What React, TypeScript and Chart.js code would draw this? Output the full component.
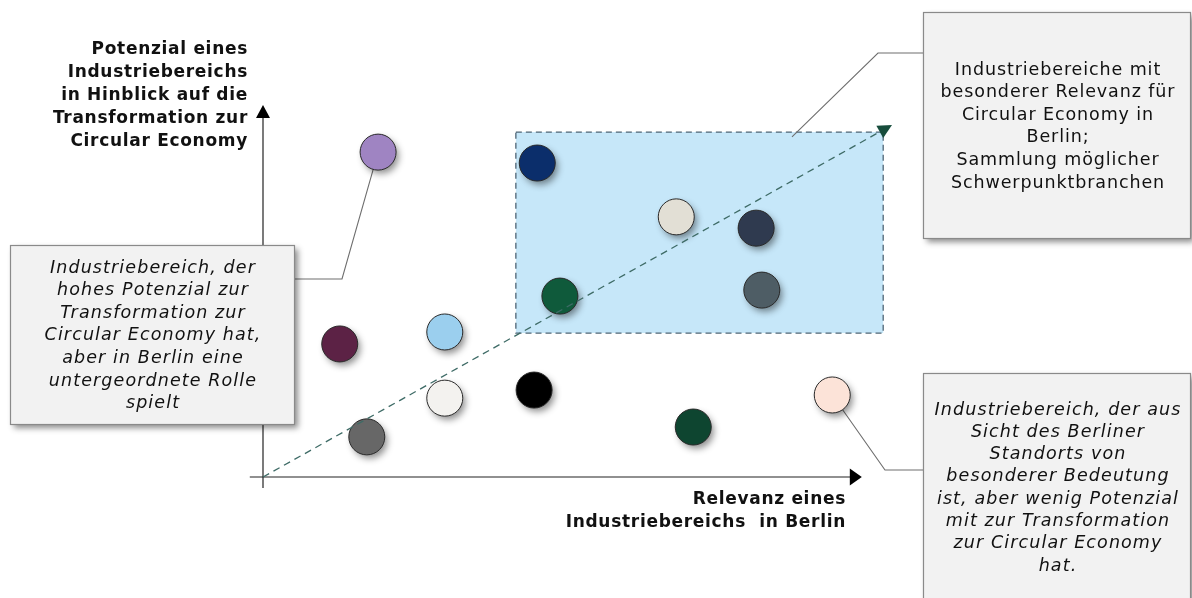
import React, { useEffect, useRef } from "react";
import { Chart, registerables } from "chart.js";

Chart.register(...registerables);

// Industry sectors: relevance in Berlin (x) vs. circular-economy potential (y)
const sectorX = [18.3, 43.6, 12.2, 28.9, 47.2, 28.9, 43.1, 16.5, 65.7, 78.4, 79.3, 68.4, 90.5];
const sectorY = [92.3, 89.2, 37.8, 41.2, 51.4, 22.4, 24.7, 11.4, 73.9, 70.7, 53.1, 14.2, 23.3];
const sectorColors = [
  "#9F84C2", "#0B2E6B", "#5C2245", "#9BCFEE", "#0F5A3B", "#F3F2EF", "#000000",
  "#676767", "#E2DFD5", "#2F3A4F", "#4E5D65", "#0E4530", "#FCE3D8",
];

// Focus area (highlighted rectangle) in data units
const focusXRange = [40.2, 98.6];
const focusYRange = [40.9, 98.0];

// Axis extents in data units
const xAxisExtent = [-2.1, 95.2];
const yAxisExtent = [-3.1, 105.7];

// Target of the top-right leader line (data units)
const focusLeaderTarget = [84.1, 96.6];

const yAxisTitle = ["Potenzial eines", "Industriebereichs", "in Hinblick auf die", "Transformation zur", "Circular Economy"];
const xAxisTitle = ["Relevanz eines", "Industriebereichs  in Berlin"];
const calloutLeft = [
  "Industriebereich, der", "hohes Potenzial zur", "Transformation zur",
  "Circular Economy hat,", "aber in Berlin eine", "untergeordnete Rolle", "spielt",
];
const calloutTopRight = [
  "Industriebereiche mit", "besonderer Relevanz für", "Circular Economy in",
  "Berlin;", "Sammlung möglicher", "Schwerpunktbranchen",
];
const calloutBottomRight = [
  "Industriebereich, der aus", "Sicht des Berliner", "Standorts von", "besonderer Bedeutung",
  "ist, aber wenig Potenzial", "mit zur Transformation", "zur Circular Economy", "hat.",
];

const FONT = "'DejaVu Sans', Verdana, sans-serif";

function drawLines(ctx: any, lines: string[], x: number, y0: number, lh: number, font: string, align: string, spacing: number) {
  ctx.save();
  ctx.font = font;
  ctx.fillStyle = "#111";
  ctx.textAlign = align;
  ctx.textBaseline = "middle";
  try { ctx.letterSpacing = spacing + "px"; } catch (e) {}
  lines.forEach((l, i) => ctx.fillText(l, x, y0 + i * lh));
  ctx.restore();
}

function drawBox(ctx: any, bx: number, by: number, bw: number, bh: number) {
  ctx.save();
  ctx.shadowColor = "rgba(0,0,0,0.45)";
  ctx.shadowBlur = 6;
  ctx.shadowOffsetX = 4;
  ctx.shadowOffsetY = 4;
  ctx.fillStyle = "#F2F2F2";
  ctx.fillRect(bx, by, bw, bh);
  ctx.restore();
  ctx.save();
  ctx.strokeStyle = "#8A8A8A";
  ctx.lineWidth = 1.2;
  ctx.strokeRect(bx + 0.5, by + 0.5, bw, bh);
  ctx.restore();
}

function arrowHead(ctx: any, tx: number, ty: number, fx: number, fy: number, len: number, half: number, color: string) {
  const a = Math.atan2(ty - fy, tx - fx);
  const bx = tx - len * Math.cos(a), by = ty - len * Math.sin(a);
  ctx.beginPath();
  ctx.moveTo(tx, ty);
  ctx.lineTo(bx + half * Math.sin(a), by - half * Math.cos(a));
  ctx.lineTo(bx - half * Math.sin(a), by + half * Math.cos(a));
  ctx.closePath();
  ctx.fillStyle = color;
  ctx.fill();
}

const overlay = {
  id: "overlay",
  beforeDatasetsDraw(chart: any) {
    const { ctx } = chart;
    const xs = chart.scales.x, ys = chart.scales.y;
    const px = (v: number) => xs.getPixelForValue(v);
    const py = (v: number) => ys.getPixelForValue(v);

    ctx.save();
    // focus rectangle
    const rx0 = px(focusXRange[0]), rx1 = px(focusXRange[1]);
    const ry0 = py(focusYRange[1]), ry1 = py(focusYRange[0]);
    ctx.fillStyle = "#C6E7F9";
    ctx.fillRect(rx0, ry0, rx1 - rx0, ry1 - ry0);
    ctx.setLineDash([6, 4]);
    ctx.strokeStyle = "#4F6575";
    ctx.lineWidth = 1.3;
    ctx.strokeRect(rx0, ry0, rx1 - rx0, ry1 - ry0);
    ctx.setLineDash([]);

    // axes
    ctx.strokeStyle = "#222";
    ctx.lineWidth = 1.2;
    const ox = px(0), oy = py(0);
    const yTop = py(yAxisExtent[1]), yBot = py(yAxisExtent[0]);
    ctx.beginPath();
    ctx.moveTo(ox, yBot);
    ctx.lineTo(ox, yTop + 10);
    ctx.stroke();
    arrowHead(ctx, ox, yTop, ox, yBot, 13, 7, "#000");
    const xL = px(xAxisExtent[0]), xR = px(xAxisExtent[1]);
    ctx.beginPath();
    ctx.moveTo(xL, oy);
    ctx.lineTo(xR - 10, oy);
    ctx.stroke();
    arrowHead(ctx, xR, oy, xL, oy, 12, 8.5, "#000");

    // leader lines
    ctx.strokeStyle = "#6E6E6E";
    ctx.lineWidth = 1.1;
    const meta = chart.getDatasetMeta(0);
    const purple = meta.data[0], pink = meta.data[12];
    ctx.beginPath();
    ctx.moveTo(294, 279);
    ctx.lineTo(342, 279);
    ctx.lineTo(purple.x, purple.y);
    ctx.stroke();
    ctx.beginPath();
    ctx.moveTo(923, 53);
    ctx.lineTo(878, 53);
    ctx.lineTo(px(focusLeaderTarget[0]), py(focusLeaderTarget[1]));
    ctx.stroke();
    ctx.beginPath();
    ctx.moveTo(923, 470);
    ctx.lineTo(885, 470);
    ctx.lineTo(pink.x, pink.y);
    ctx.stroke();

    // bubble shadows
    ctx.shadowColor = "rgba(0,0,0,0.45)";
    ctx.shadowBlur = 7;
    ctx.shadowOffsetX = 3;
    ctx.shadowOffsetY = 4;
    meta.data.forEach((p: any, i: number) => {
      ctx.beginPath();
      ctx.arc(p.x, p.y, 17.5, 0, Math.PI * 2);
      ctx.fillStyle = sectorColors[i];
      ctx.fill();
    });
    ctx.restore();
  },
  afterDatasetsDraw(chart: any) {
    const { ctx } = chart;
    const xs = chart.scales.x, ys = chart.scales.y;
    const x0 = xs.getPixelForValue(0), y0 = ys.getPixelForValue(0);
    const x1 = xs.getPixelForValue(100), y1 = ys.getPixelForValue(100);
    ctx.save();
    ctx.strokeStyle = "#3E6B66";
    ctx.lineWidth = 1.3;
    ctx.setLineDash([7, 5]);
    const a = Math.atan2(y1 - y0, x1 - x0);
    ctx.beginPath();
    ctx.moveTo(x0, y0);
    ctx.lineTo(x1 - 10 * Math.cos(a), y1 - 10 * Math.sin(a));
    ctx.stroke();
    ctx.setLineDash([]);
    arrowHead(ctx, x1, y1, x0, y0, 14, 7, "#174D3C");
    ctx.restore();
  },
  afterDraw(chart: any) {
    const { ctx } = chart;
    drawBox(ctx, 10, 245, 284, 179);
    drawBox(ctx, 923, 12, 267, 226);
    drawBox(ctx, 923, 373, 267, 240);
    drawLines(ctx, yAxisTitle, 248, 50, 23, `bold 17px ${FONT}`, "right", 0.7);
    drawLines(ctx, xAxisTitle, 846, 500, 23, `bold 17px ${FONT}`, "right", 0.7);
    drawLines(ctx, calloutLeft, 153, 268, 22.6, `italic 17.5px ${FONT}`, "center", 1.1);
    drawLines(ctx, calloutTopRight, 1058, 70, 22.6, `17.5px ${FONT}`, "center", 0.9);
    drawLines(ctx, calloutBottomRight, 1058, 410, 22.3, `italic 17.5px ${FONT}`, "center", 1.1);
  },
};

export default function App() {
  const ref = useRef<HTMLCanvasElement>(null);
  useEffect(() => {
    if (!ref.current) return;
    const chart = new Chart(ref.current, {
      type: "scatter",
      data: {
        datasets: [
          {
            data: sectorX.map((v, i) => ({ x: v, y: sectorY[i] })),
            backgroundColor: sectorColors,
            borderColor: "#2A2A2A",
            borderWidth: 1,
            pointRadius: 18,
            pointHoverRadius: 18,
            clip: false as any,
          },
        ],
      },
      options: {
        responsive: false,
        animation: false,
        devicePixelRatio: 1,
        events: [],
        layout: { padding: { left: 263, right: 300, top: 125, bottom: 121 } },
        scales: {
          x: { type: "linear", min: 0, max: 100, display: false },
          y: { type: "linear", min: 0, max: 100, display: false },
        },
        plugins: { legend: { display: false }, tooltip: { enabled: false } },
      },
      plugins: [overlay],
    });
    return () => chart.destroy();
  }, []);
  return (
    <div style={{ position: "absolute", left: 0, top: 0, width: 1192, height: 598, background: "#fff" }}>
      <canvas ref={ref} width={1192} height={598} style={{ display: "block" }} />
    </div>
  );
}
